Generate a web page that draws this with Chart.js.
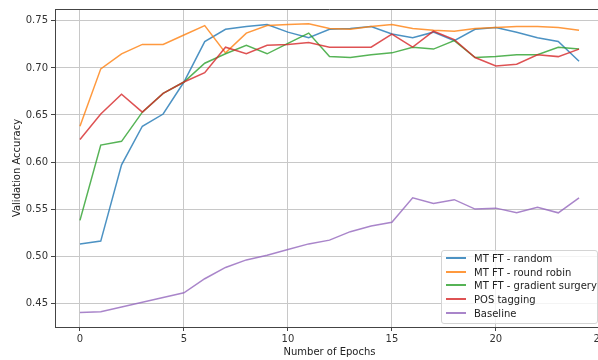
<!DOCTYPE html>
<html>
<head>
<meta charset="utf-8">
<script src="https://cdn.jsdelivr.net/npm/chart.js@4"></script>
<style>
    body { margin: 0; background: #fff; }
    #wrap { position: relative; width: 598px; height: 360px; overflow: hidden; }
    #box { position: absolute; left: 0; top: 0; width: 610px; height: 360px; }
    #legend {
        position: absolute; left: 441px; top: 250px; width: 155px; height: 71px;
        border: 1px solid #d4d4d4; border-radius: 3px; background: rgba(255,255,255,0.8);
        font: 10px "DejaVu Sans", sans-serif; color: #222; padding-top: 1px; box-sizing: content-box;
    }
    .item { height: 13.65px; line-height: 13.65px; white-space: nowrap; }
    .swatch { display: inline-block; width: 20px; height: 2px; vertical-align: middle; margin: 0 8px 0 4px; position: relative; top: -1px; }
</style>
</head>
<body>
<div id="wrap">
    <div id="box"><canvas id="accChart" width="610" height="360"></canvas></div>
    <div id="legend"></div>
</div>
<script>
// Validation accuracy per epoch
const epochs = [0, 1, 2, 3, 4, 5, 6, 7, 8, 9, 10, 11, 12, 13, 14, 15, 16, 17, 18, 19, 20, 21, 22, 23, 24];
const mtRandom = [0.513, 0.516, 0.597, 0.638, 0.651, 0.685, 0.728, 0.741, 0.744, 0.746, 0.738, 0.732, 0.741, 0.742, 0.744, 0.736, 0.732, 0.738, 0.729, 0.741, 0.743, 0.738, 0.732, 0.728, 0.707];
const mtRoundRobin = [0.638, 0.699, 0.715, 0.725, 0.725, 0.735, 0.745, 0.716, 0.737, 0.745, 0.746, 0.747, 0.742, 0.741, 0.744, 0.746, 0.742, 0.740, 0.739, 0.742, 0.743, 0.744, 0.744, 0.743, 0.740];
const mtGradSurgery = [0.538, 0.618, 0.622, 0.653, 0.673, 0.685, 0.705, 0.715, 0.724, 0.715, 0.726, 0.737, 0.712, 0.711, 0.714, 0.716, 0.722, 0.720, 0.729, 0.711, 0.712, 0.714, 0.714, 0.722, 0.720];
const posTagging = [0.624, 0.651, 0.672, 0.653, 0.673, 0.685, 0.695, 0.722, 0.715, 0.724, 0.725, 0.727, 0.722, 0.722, 0.722, 0.736, 0.722, 0.739, 0.730, 0.711, 0.702, 0.704, 0.714, 0.712, 0.720];
const baseline = [0.440, 0.441, 0.446, 0.451, 0.456, 0.461, 0.476, 0.488, 0.496, 0.501, 0.507, 0.513, 0.517, 0.526, 0.532, 0.536, 0.562, 0.556, 0.560, 0.550, 0.551, 0.546, 0.552, 0.546, 0.562];

const seriesNames = ["MT FT - random", "MT FT - round robin", "MT FT - gradient surgery", "POS tagging", "Baseline"];
const seriesColors = ["rgba(31,119,180,0.8)", "rgba(255,127,14,0.8)", "rgba(44,160,44,0.8)", "rgba(214,39,40,0.8)", "rgba(148,103,189,0.8)"];
const xTicks = [0, 5, 10, 15, 20, 25];
const yTicks = [0.45, 0.50, 0.55, 0.60, 0.65, 0.70, 0.75];

const allSeries = [mtRandom, mtRoundRobin, mtGradSurgery, posTagging, baseline];

const font = { family: "DejaVu Sans", size: 10 };

// top spine
const frame = {
    id: "frame",
    afterDraw(chart) {
        const { ctx, chartArea } = chart;
        ctx.save();
        ctx.strokeStyle = "#444";
        ctx.lineWidth = 1;
        ctx.beginPath();
        ctx.moveTo(chartArea.left, chartArea.top + 0.5);
        ctx.lineTo(chartArea.right, chartArea.top + 0.5);
        ctx.stroke();
        ctx.restore();
    },
};

const accChart = new Chart(document.getElementById("accChart"), {
    type: "line",
    data: {
        datasets: allSeries.map((values, i) => ({
            label: seriesNames[i],
            data: epochs.map((e, j) => ({ x: e, y: values[j] })),
            borderColor: seriesColors[i],
            backgroundColor: seriesColors[i],
            borderWidth: 1.5,
            pointRadius: 0,
            tension: 0,
            order: allSeries.length - i,
        })),
    },
    options: {
        responsive: false,
        animation: false,
        layout: { padding: { top: 6, right: 6, left: 0, bottom: 0 } },
        plugins: { legend: { display: false }, tooltip: { enabled: false } },
        scales: {
            x: {
                type: "linear",
                min: -1.2,
                max: 25.2,
                afterBuildTicks: (s) => { s.ticks = xTicks.map((v) => ({ value: v })); },
                afterFit: (s) => { s.height = 33; },
                ticks: { font: font, color: "#333", padding: 2, maxRotation: 0 },
                grid: { color: "#c8c8c8", lineWidth: 1, tickLength: 4, tickColor: "#444" },
                border: { color: "#444", width: 1 },
                title: { display: true, text: "Number of Epochs", font: font, color: "#222", padding: { bottom: 2, top: 0 } },
            },
            y: {
                min: 0.4247,
                max: 0.7626,
                afterBuildTicks: (s) => { s.ticks = yTicks.map((v) => ({ value: v })); },
                afterFit: (s) => { s.width = 55; },
                ticks: { font: font, color: "#333", padding: 3, callback: (v) => v.toFixed(2) },
                grid: { color: "#c8c8c8", lineWidth: 1, tickLength: 4, tickColor: "#444" },
                border: { color: "#444", width: 1 },
                title: { display: true, text: "Validation Accuracy", font: font, color: "#222", padding: { top: 11, bottom: 0 } },
            },
        },
    },
    plugins: [frame],
});

// legend box, lower right inside the axes
const legend = document.getElementById("legend");
seriesNames.forEach((name, i) => {
    const row = document.createElement("div");
    row.className = "item";
    row.innerHTML = `<span class="swatch" style="background:${seriesColors[i]}"></span>${name}`;
    legend.appendChild(row);
});
</script>
</body>
</html>
